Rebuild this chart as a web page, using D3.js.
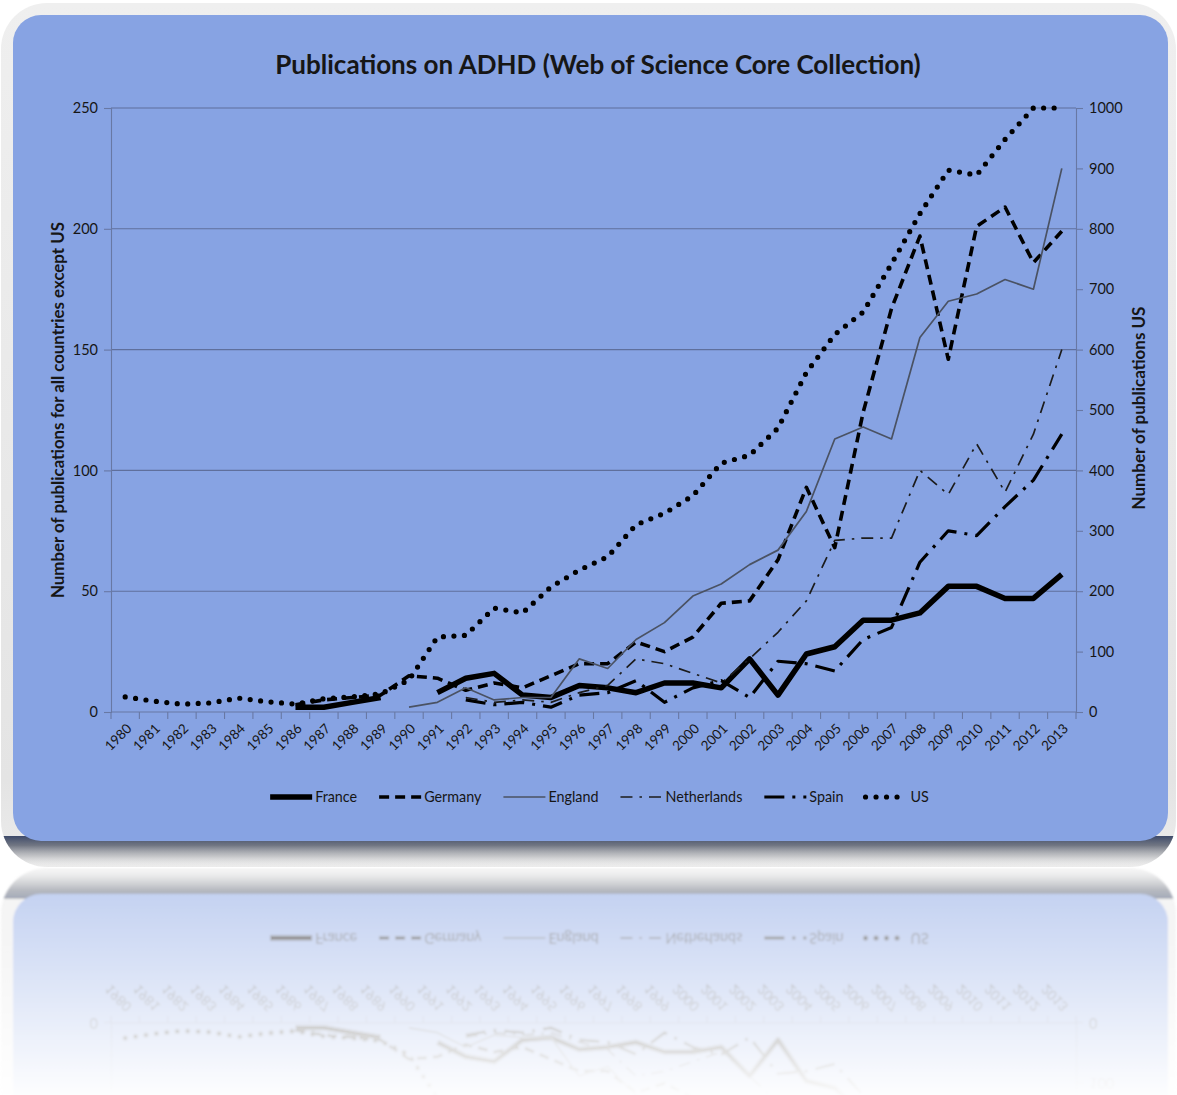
<!DOCTYPE html>
<html>
<head>
<meta charset="utf-8">
<script src="https://cdn.jsdelivr.net/npm/d3@7"></script>
<style>
  html, body { margin: 0; padding: 0; background: #ffffff; }
  svg { display: block; }
  text { font-family: Lato, "Open Sans", "Liberation Sans", sans-serif; fill: #161616; }
</style>
</head>
<body>
<svg id="chart" width="1177" height="1095"></svg>
<script>
// ---- data ----------------------------------------------------------------
const years = ["1980","1981","1982","1983","1984","1985","1986","1987","1988","1989",
               "1990","1991","1992","1993","1994","1995","1996","1997","1998","1999",
               "2000","2001","2002","2003","2004","2005","2006","2007","2008","2009",
               "2010","2011","2012","2013"];

const france = [null,null,null,null,null,null, 2,2,4,6, null, 8,14,16,7,6,11,10,8,12,
                12,10,22,7,24,27,38,38,41,52,52,47,47,57];
const germany = [null,null,null,null,null,null, 3,5,6,7, 15,14,9,12,10,15,20,20,29,25,
                 31,45,46,63,93,68,124,167,197,146,201,209,186,199];
const england = [null,null,null,null,null,null,null,null,null,null, 2,4,10,5,6,6,22,18,30,37,
                 48,53,61,67,83,113,118,113,155,170,173,179,175,225];
const netherlands = [null,null,null,null,null,null,null,null,null,null,null,null, 6,4,5,4,8,11,22,20,
                     16,12,22,33,46,71,72,72,100,90,111,91,115,150];
const spain = [null,null,null,null,null,null,null,null,null,null,null,null, 5,3,4,2,7,8,13,4,
               10,13,6,21,20,17,30,35,62,75,73,85,96,115];
const us = [25,18,13,15,23,17,13,22,25,30, 53,124,127,172,164,207,235,257,310,329,
            358,412,425,470,562,625,662,742,825,897,889,948,1000,1000];

const leftTicks = [0, 50, 100, 150, 200, 250];
const rightTicks = [0, 100, 200, 300, 400, 500, 600, 700, 800, 900, 1000];

const titleText = "Publications on ADHD (Web of Science Core Collection)";
const leftTitle = "Number of publications for all countries except US";
const rightTitle = "Number of publications US";

// series: name, values, axis, stroke styling
const series = [
  { name: "France",      values: france,      axis: "left",  color: "#000", width: 5.5, dash: null,            cap: "butt"  },
  { name: "Germany",     values: germany,     axis: "left",  color: "#000", width: 3.6, dash: "10 6",          cap: "butt"  },
  { name: "England",     values: england,     axis: "left",  color: "#4a5263", width: 1.7, dash: null,         cap: "butt"  },
  { name: "Netherlands", values: netherlands, axis: "left",  color: "#1c1c1c", width: 1.7, dash: "12 7 2.5 7", cap: "butt"  },
  { name: "Spain",       values: spain,       axis: "left",  color: "#000", width: 3.2, dash: "20 8 3 8",      cap: "butt"  },
  { name: "US",          values: us,          axis: "right", color: "#000", width: 5.2, dash: "0 10.5",        cap: "round" }
];

// ---- layout ----------------------------------------------------------------
const W = 1177, H = 1095;
const plot = { left: 111, right: 1076, top: 108, bottom: 712 };
const mirrorAxis = 867.5;

const svg = d3.select("#chart");
const defs = svg.append("defs");

// frame shading
const fg = defs.append("linearGradient").attr("id", "frameFill")
  .attr("x1", 0).attr("y1", 0).attr("x2", 0).attr("y2", 1);
fg.append("stop").attr("offset", 0).attr("stop-color", "#efefef");
fg.append("stop").attr("offset", 0.9).attr("stop-color", "#e4e4e4");
fg.append("stop").attr("offset", 1).attr("stop-color", "#ececec");

const sg = defs.append("linearGradient").attr("id", "bottomShade")
  .attr("gradientUnits", "userSpaceOnUse")
  .attr("x1", 0).attr("y1", 836).attr("x2", 0).attr("y2", 867);
sg.append("stop").attr("offset", 0).attr("stop-color", "#3d4a6a").attr("stop-opacity", 1);
sg.append("stop").attr("offset", 0.3).attr("stop-color", "#5b6170").attr("stop-opacity", 0.85);
sg.append("stop").attr("offset", 0.65).attr("stop-color", "#a9abb0").attr("stop-opacity", 0.6);
sg.append("stop").attr("offset", 1).attr("stop-color", "#e8e8e8").attr("stop-opacity", 0);

defs.append("clipPath").attr("id", "frameClip")
  .append("rect").attr("x", 1).attr("y", 3).attr("width", 1175).attr("height", 864).attr("rx", 46);

// reflection fade
const rg = defs.append("linearGradient").attr("id", "reflGrad")
  .attr("gradientUnits", "userSpaceOnUse")
  .attr("x1", 0).attr("y1", mirrorAxis).attr("x2", 0).attr("y2", H);
rg.append("stop").attr("offset", 0).attr("stop-color", "#fff").attr("stop-opacity", 0.55);
rg.append("stop").attr("offset", 1).attr("stop-color", "#fff").attr("stop-opacity", 0.02);
defs.append("mask").attr("id", "reflMask")
  .attr("maskUnits", "userSpaceOnUse")
  .attr("x", 0).attr("y", 0).attr("width", W).attr("height", H)
  .append("rect").attr("x", 0).attr("y", mirrorAxis).attr("width", W).attr("height", H - mirrorAxis)
  .attr("fill", "url(#reflGrad)");
defs.append("filter").attr("id", "reflBlur")
  .attr("x", -0.05).attr("y", -0.05).attr("width", 1.1).attr("height", 1.1)
  .append("feGaussianBlur").attr("stdDeviation", 1.1);

// ---- card ------------------------------------------------------------------
const card = svg.append("g").attr("id", "card");

card.append("rect").attr("x", 1).attr("y", 3).attr("width", 1175).attr("height", 864)
  .attr("rx", 46).attr("fill", "url(#frameFill)");
card.append("rect").attr("x", 1).attr("y", 836).attr("width", 1175).attr("height", 32)
  .attr("fill", "url(#bottomShade)").attr("clip-path", "url(#frameClip)");
card.append("rect").attr("x", 13).attr("y", 15).attr("width", 1155).attr("height", 826)
  .attr("rx", 28).attr("fill", "#87a3e3");

// scales
const x = d3.scaleBand().domain(years).range([plot.left, plot.right]).paddingInner(0).paddingOuter(0);
const xc = d => x(d) + x.bandwidth() / 2;
const yL = d3.scaleLinear().domain([0, 250]).range([plot.bottom, plot.top]);
const yR = d3.scaleLinear().domain([0, 1000]).range([plot.bottom, plot.top]);

const chart = card.append("g");

// gridlines
chart.append("g").selectAll("line").data(leftTicks.filter(t => t > 0)).join("line")
  .attr("x1", plot.left).attr("x2", plot.right)
  .attr("y1", d => yL(d)).attr("y2", d => yL(d))
  .attr("stroke", "#5f6f9c").attr("stroke-width", 1.1);

const axisColor = "#6878a4";

// left axis
const gL = chart.append("g").attr("transform", `translate(${plot.left},0)`)
  .call(d3.axisLeft(yL).tickValues(leftTicks).tickFormat(d3.format("d")).tickSize(7).tickPadding(6));
// right axis
const gR = chart.append("g").attr("transform", `translate(${plot.right},0)`)
  .call(d3.axisRight(yR).tickValues(rightTicks).tickFormat(d3.format("d")).tickSize(7).tickPadding(6));
[gL, gR].forEach(g => {
  g.selectAll("path.domain").attr("stroke", axisColor).attr("stroke-width", 1.1);
  g.selectAll(".tick line").attr("stroke", axisColor).attr("stroke-width", 1.1);
  g.selectAll(".tick text").attr("font-size", 14.5).attr("font-family", "Lato, sans-serif").attr("fill", "#1a1a1a");
});

// bottom axis: labels at category centres, ticks at category boundaries
const gB = chart.append("g").attr("transform", `translate(0,${plot.bottom})`)
  .call(d3.axisBottom(x).tickSize(0).tickPadding(0));
gB.select("path.domain").remove();
gB.selectAll(".tick text")
  .attr("font-size", 13.5).attr("font-family", "Lato, sans-serif").attr("fill", "#1a1a1a")
  .attr("text-anchor", "end").attr("x", 0).attr("y", 0).attr("dy", "0.35em")
  .attr("transform", "translate(4,14) rotate(-45)");
const boundaries = years.map(d => x(d)).concat([x(years[years.length - 1]) + x.bandwidth()]);
gB.append("line").attr("x1", plot.left).attr("x2", plot.right).attr("y1", 0).attr("y2", 0)
  .attr("stroke", axisColor).attr("stroke-width", 1.1);
gB.append("g").selectAll("line").data(boundaries).join("line")
  .attr("x1", d => d).attr("x2", d => d).attr("y1", 0).attr("y2", 7)
  .attr("stroke", axisColor).attr("stroke-width", 1.1);

// series lines
series.forEach(s => {
  const ys = s.axis === "left" ? yL : yR;
  const line = d3.line()
    .defined(v => v !== null)
    .x((v, i) => xc(years[i]))
    .y(v => ys(v));
  chart.append("path")
    .datum(s.values)
    .attr("d", line)
    .attr("fill", "none")
    .attr("stroke", s.color)
    .attr("stroke-width", s.width)
    .attr("stroke-linejoin", "round")
    .attr("stroke-linecap", s.cap)
    .attr("stroke-dasharray", s.dash);
});

// text fitting helper: scale font size so the text spans the given width
function fitWidth(sel, target) {
  const w = sel.node().getComputedTextLength();
  const fs = parseFloat(sel.attr("font-size"));
  sel.attr("font-size", fs * target / w);
  return fs * target / w;
}

// title
const title = card.append("text").text(titleText)
  .attr("x", 598).attr("y", 74).attr("text-anchor", "middle")
  .attr("font-size", 26).attr("font-weight", 700).attr("fill", "#0d0d0d");
fitWidth(title, 646);

// axis titles
const lt = card.append("text").text(leftTitle)
  .attr("transform", "translate(64,410) rotate(-90)").attr("text-anchor", "middle")
  .attr("font-size", 13).attr("font-weight", 700).attr("fill", "#0d0d0d");
fitWidth(lt, 376);
const rt = card.append("text").text(rightTitle)
  .attr("transform", "translate(1145,408) rotate(-90)").attr("text-anchor", "middle")
  .attr("font-size", 13).attr("font-weight", 700).attr("fill", "#0d0d0d");
fitWidth(rt, 203);

// legend
const legend = card.append("g");
const legY = 797;
const probe = legend.append("text").text("Netherlands").attr("font-size", 14);
const legFs = fitWidth(probe, 77);
probe.remove();
const swatchW = 42, swGap = 3, itemGap = 22;
const items = series.map(s => {
  const g = legend.append("g");
  g.append("line").attr("x1", 0).attr("x2", swatchW).attr("y1", legY).attr("y2", legY)
    .attr("stroke", s.color).attr("stroke-width", s.width)
    .attr("stroke-linecap", s.cap).attr("stroke-dasharray", s.dash);
  const t = g.append("text").text(s.name).attr("x", swatchW + swGap).attr("y", legY)
    .attr("dy", "0.35em").attr("font-size", legFs).attr("fill", "#161616");
  return { g, w: swatchW + swGap + t.node().getComputedTextLength() };
});
const total = d3.sum(items, d => d.w) + itemGap * (items.length - 1);
let cx = 599.5 - total / 2;
items.forEach(it => {
  it.g.attr("transform", `translate(${cx},0)`);
  cx += it.w + itemGap;
});

// ---- mirrored, fading copy below the card ------------------------------------
svg.append("g").attr("mask", "url(#reflMask)").attr("filter", "url(#reflBlur)")
  .append("use").attr("href", "#card")
  .attr("transform", `matrix(1,0,0,-1,0,${2 * mirrorAxis})`);
</script>
</body>
</html>
